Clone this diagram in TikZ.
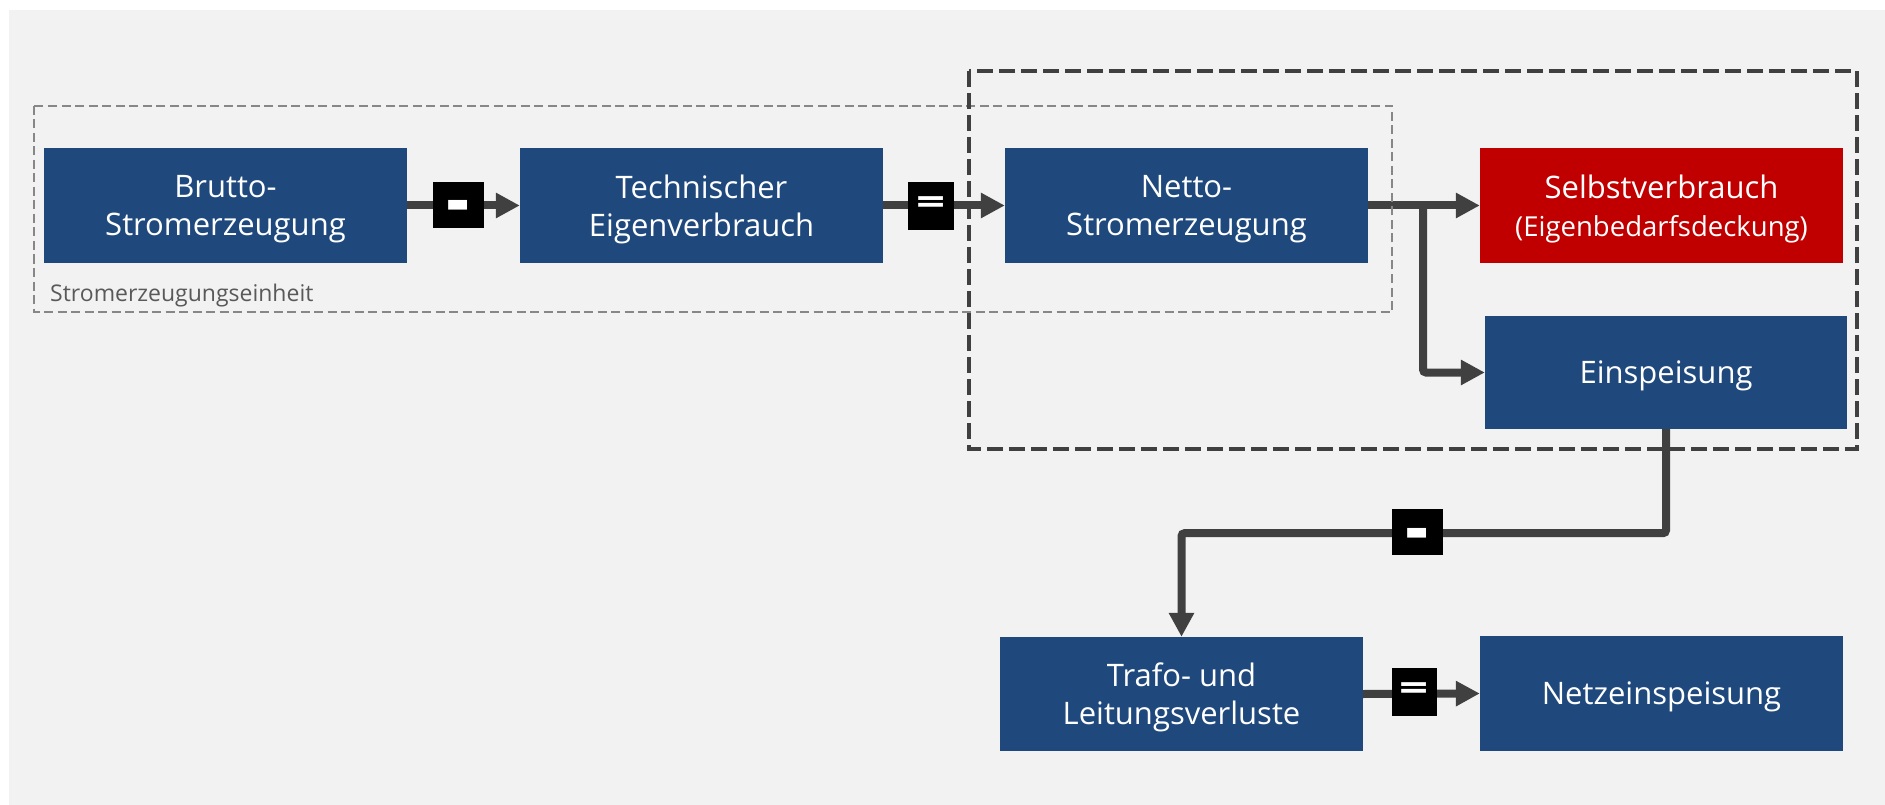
\documentclass[tikz,border=0pt]{standalone}
\usepackage{fontspec}
\setmainfont{Open Sans}
\usetikzlibrary{arrows.meta}
\definecolor{bgc}{HTML}{F2F2F2}
\definecolor{boxblue}{HTML}{1F497D}
\definecolor{boxred}{HTML}{C00000}
\definecolor{conc}{HTML}{404040}
\definecolor{lblc}{HTML}{595959}
\definecolor{thinc}{HTML}{878787}
\newcommand{\minusglyph}{\raisebox{-22pt}[0pt][0pt]{\scalebox{1}[1.1]{-}}}
\newcommand{\eqglyph}{\scalebox{1}[0.7]{=}}
\tikzset{
  flowbox/.style={fill=boxblue, text=white, inner sep=0pt, minimum width=363pt, minimum height=115pt, align=center, text depth=0pt, font=\fontsize{31}{38}\selectfont},
  conn/.style={draw=conc, line width=8pt, rounded corners=3pt, -{Triangle[length=24pt,width=24pt]}},
  badge/.style={fill=black, text=white, inner sep=0pt, minimum width=51pt, minimum height=46pt},
  minusbadge/.style={badge, font=\fontsize{72}{72}\bfseries\selectfont},
  eqbadge/.style={badge, minimum width=46pt, minimum height=48pt, font=\fontsize{51}{51}\bfseries\selectfont},
  bigdash/.style={draw=conc, line width=4.5pt, dash pattern=on 16pt off 6pt},
  thindash/.style={draw=thinc, line width=2.5pt, dash pattern=on 9pt off 4.5pt}
}
\begin{document}
\begin{tikzpicture}[x=1pt, y=-1pt]
\useasboundingbox (0,0) rectangle (1885,805);
\fill[white] (0,0) rectangle (1885,805);
\fill[bgc] (9,10) rectangle (1885,805);

% boxes
\node[flowbox] (brutto) at (225.5,205.5) {Brutto-\\Stromerzeugung};
\node[flowbox] (tech) at (701.5,205.5) {Technischer\\Eigenverbrauch};
\node[flowbox] (netto) at (1186.5,205.5) {Netto-\\Stromerzeugung};
\node[flowbox, fill=boxred] (selbst) at (1661.5,205.5) {Selbstverbrauch\\{\fontsize{27.5}{36}\selectfont(Eigenbedarfsdeckung)}};
\node[flowbox, minimum width=362pt, minimum height=113pt] (einsp) at (1666,372.5) {Einspeisung};
\node[flowbox, minimum height=114pt] (trafo) at (1181.5,694) {Trafo- und\\Leitungsverluste};
\node[flowbox] (netz) at (1661.5,693.5) {Netzeinspeisung};

% connectors
\draw[conn] (brutto.east) -- (tech.west);
\draw[conn] (tech.east) -- (netto.west);
\draw[conn] (netto.east) -- (selbst.west);
\coordinate (br) at (1423,205.5);
\draw[conn] (br) |- (einsp.west);
\draw[conn] (einsp.south) -- ++(0,104) -| (trafo.north);
\draw[conn] (trafo.east) -- (netz.west);

% badges
\node[minusbadge] (m1) at (458.5,205) {\minusglyph};
\node[eqbadge] (e1) at (931,206) {\eqglyph};
\node[minusbadge] (m2) at (1417.5,532) {\minusglyph};
\node[eqbadge, minimum width=45pt] (e2) at (1414.5,692) {\eqglyph};

% dashed frames
\draw[thindash] (34,106) rectangle (1392,312);
\node[anchor=base west, text=lblc, inner sep=0pt, font=\fontsize{23}{28}\selectfont] (lbl) at (50,301) {Stromerzeugungseinheit};
\draw[bigdash] (969,71) rectangle (1857,449);
\end{tikzpicture}
\end{document}
